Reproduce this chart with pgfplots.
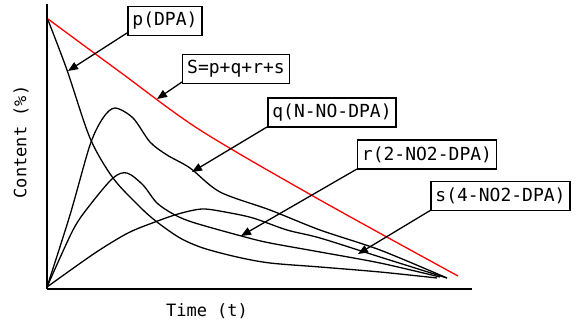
\documentclass[border=0pt]{standalone}
\usepackage{pgfplots}
\pgfplotsset{compat=1.18}
\usepackage{fontspec}
\setmainfont{DejaVu Sans Mono}
\usetikzlibrary{arrows.meta}
\begin{document}
\begin{tikzpicture}
\begin{axis}[
  scale only axis, width=425bp, height=285bp,
  xmin=0, xmax=425, ymin=0, ymax=285,
  axis x line=bottom, axis y line=left,
  axis line style={-, line width=1.6bp, black},
  xtick=\empty, ytick=\empty,
  clip=false,
  every axis plot/.append style={line width=1.3bp, smooth, no markers},
]
\addplot[black] coordinates {(1,269) (20,219) (43,151) (66,111) (93,82) (110,67) (133,51) (156,41) (190,32) (223,26) (273,22) (333,17) (390,11)};
\addplot[black] coordinates {(0,2) (23,74) (43,144) (56,171) (68,181) (86,171) (103,147) (120,134) (143,121) (173,97) (223,79) (273,59) (333,39) (400,11)};
\addplot[black] coordinates {(0,2) (26,59) (43,84) (66,111) (80,116) (96,104) (110,86) (128,74) (148,66) (198,52) (223,46) (273,37) (333,26) (393,12)};
\addplot[black] coordinates {(0,2) (48,36) (81,56) (108,67) (131,75) (155,80) (178,77) (206,71) (240,59) (273,51) (333,32) (400,11)};
\addplot[red] coordinates {(1,270) (73,217) (153,159) (273,89) (411,13)};

\coordinate (tl) at (axis cs:-47,289);
\coordinate (br) at (axis cs:531,-34);

\tikzset{lbl/.style={draw=black, line width=1.3bp, fill=white, inner xsep=4.5bp, inner ysep=0pt, minimum height=29bp, font=\fontsize{18bp}{20bp}\selectfont},
         arr/.style={line width=1.3bp, -{Triangle[length=10bp,width=8bp]}}}
\draw[arr] (axis cs:80,256) -- (axis cs:21,218);
\draw[arr] (axis cs:135,207) -- (axis cs:110,190);
\draw[arr] (axis cs:220,162) -- (axis cs:145,117);
\draw[arr] (axis cs:310,120) -- (axis cs:194,53);
\draw[arr] (axis cs:384,79) -- (axis cs:311,35);
\node[lbl] at (axis cs:118,268) {p(DPA)};
\node[lbl] at (axis cs:189,220) {S=p+q+r+s};
\node[lbl] at (axis cs:285,176.5) {q(N-NO-DPA)};
\node[lbl] at (axis cs:380,134.5) {r(2-NO2-DPA)};
\node[lbl] at (axis cs:453.5,93) {s(4-NO2-DPA)};
\node[font=\fontsize{17bp}{19bp}\selectfont, rotate=90] at (axis cs:-26,147) {Content (\%)};
\node[font=\fontsize{17bp}{19bp}\selectfont] at (axis cs:160,-22) {Time (t)};
\end{axis}
\pgfresetboundingbox
\path[use as bounding box] (tl) rectangle (br);
\end{tikzpicture}
\end{document}
